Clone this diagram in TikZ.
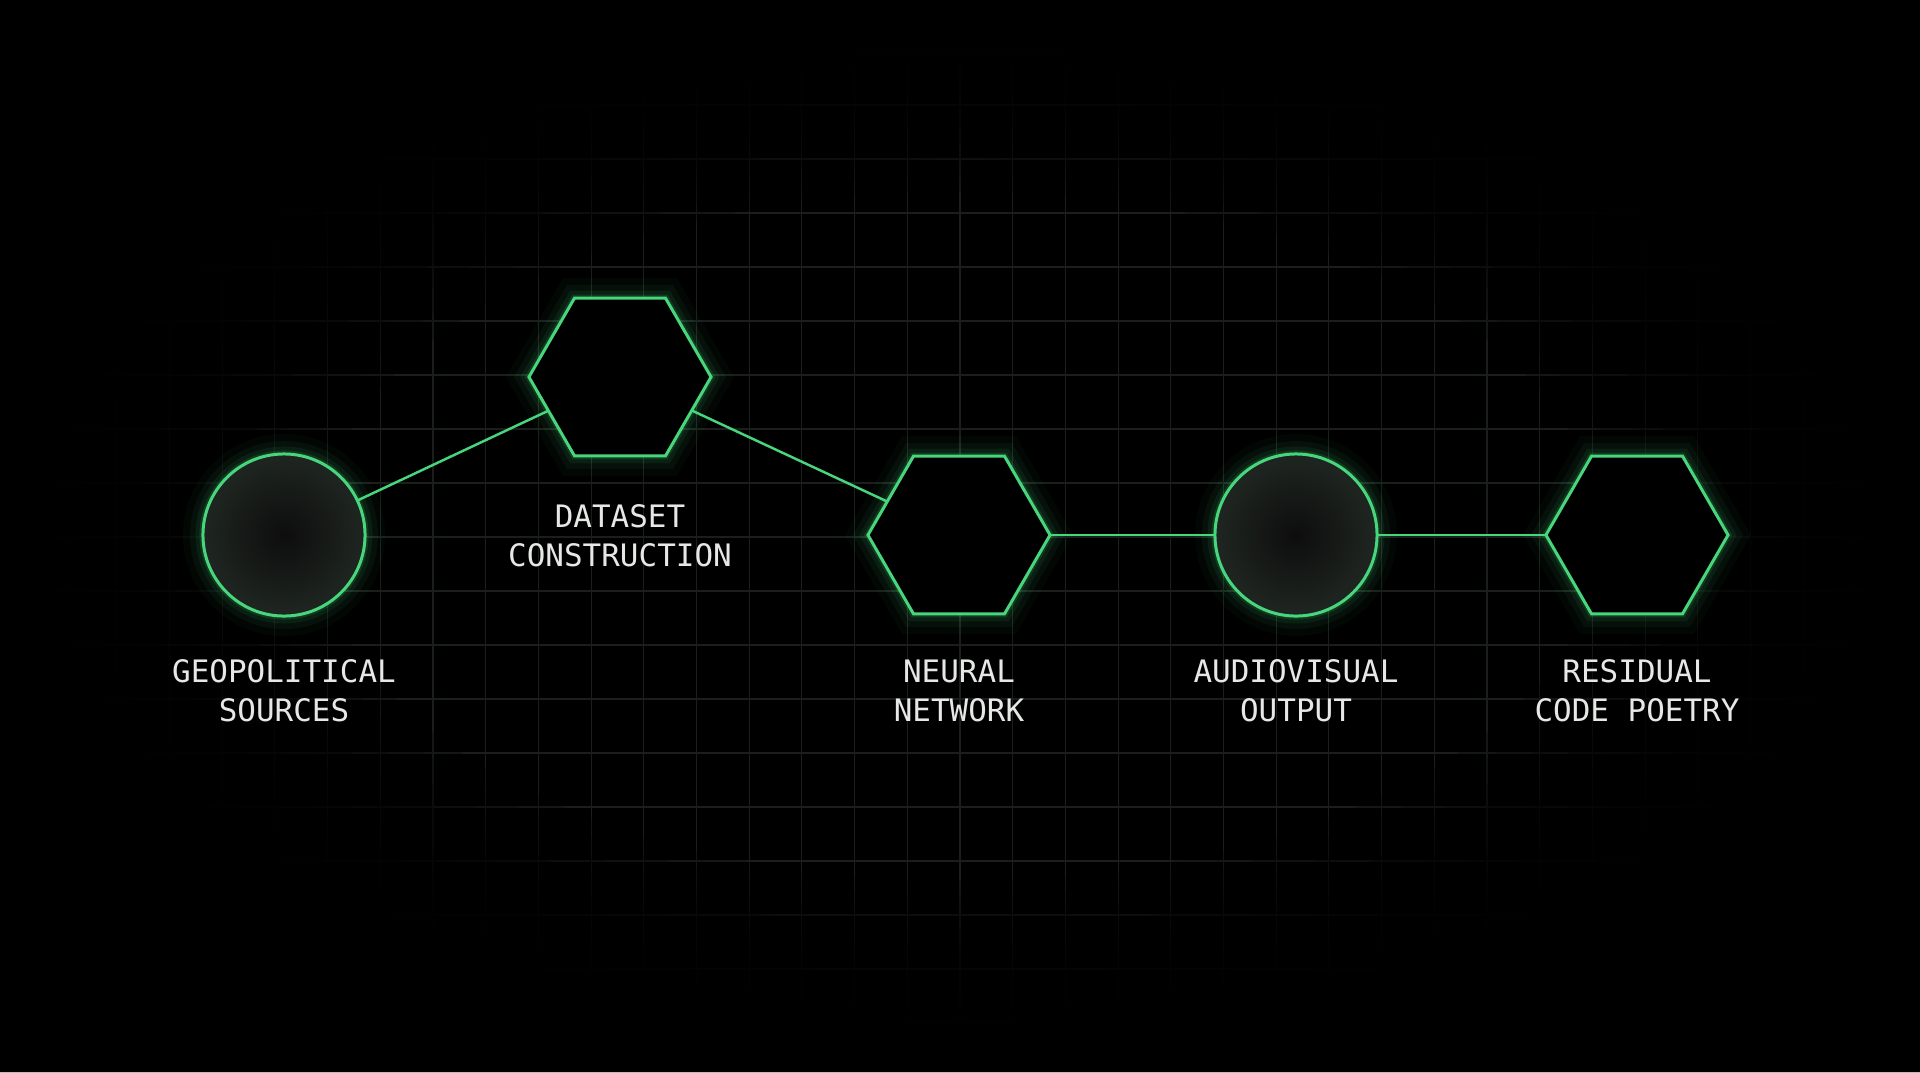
\documentclass[tikz,border=0pt]{standalone}
\usepackage{fontspec}
\usetikzlibrary{positioning,shapes.geometric}
\newfontfamily\capfont{DejaVu Sans Mono}
\definecolor{neon}{HTML}{47D67C}
\definecolor{gridc}{HTML}{1A1F1C}
\definecolor{inkc}{HTML}{E6E8E6}
\definecolor{orbcore}{HTML}{0D0D0D}
\definecolor{orbrim}{HTML}{1F2621}
\tikzset{
  glow/.style={preaction={draw=neon, line width=4mm, opacity=0.035},
               preaction={draw=neon, line width=2.6mm, opacity=0.05},
               preaction={draw=neon, line width=1.5mm, opacity=0.08},
               preaction={draw=neon, line width=0.7mm, opacity=0.14}},
  hexnode/.style={glow, regular polygon, regular polygon sides=6,
                  minimum size=1.82cm, inner sep=0pt, outer sep=0pt,
                  draw=neon, line width=0.85pt, fill=black},
  orbnode/.style={glow, circle, minimum size=1.62cm, inner sep=0pt, outer sep=0pt,
                  draw=neon, line width=0.85pt, inner color=orbcore, outer color=orbrim},
  wire/.style={draw=neon, line width=0.7pt},
  caption/.style={text=inkc, align=center, inner sep=0pt, font=\capfont\fontsize{8.8}{11.1}\selectfont},
  gridline/.style={draw=gridc, line width=0.3pt},
  shade ring/.style={fill=black, opacity=0.22, even odd rule}
}
\begin{document}
\begin{tikzpicture}[x=0.01cm, y=-0.01cm]
\fill[black] (0,0) rectangle (1920,1072);
\useasboundingbox (0,0) rectangle (1920,1072);
\foreach \gx in {-18,...,18}
  \draw[gridline] ({960+52.7*\gx},0) -- ({960+52.7*\gx},1072);
\foreach \gy in {-10,...,10}
  \draw[gridline] (0,{537+54*\gy}) -- (1920,{537+54*\gy});
% dark edges
\foreach \k in {0,...,10}
  \fill[shade ring] (0,0) rectangle (1920,1072)
    (960,536) ellipse [x radius={640+30*\k}, y radius={345+16*\k}];

\node[orbnode] (geo) at (284,535) {};
\node[hexnode] (data) at (620,377) {};
\node[hexnode] (net) at (959,535) {};
\node[orbnode] (av) at (1296,535) {};
\node[hexnode] (poem) at (1637,535) {};

\draw[wire] (geo) -- (data);
\draw[wire] (data) -- (net);
\draw[wire] (net) -- (av);
\draw[wire] (av) -- (poem);

\node[caption, below=1.24cm of geo.center] (geo-cap) {GEOPOLITICAL\\SOURCES};
\node[caption, below=1.27cm of data.center] (data-cap) {DATASET\\CONSTRUCTION};
\node[caption, below=1.24cm of net.center] (net-cap) {NEURAL\\NETWORK};
\node[caption, below=1.24cm of av.center] (av-cap) {AUDIOVISUAL\\OUTPUT};
\node[caption, below=1.24cm of poem.center] (poem-cap) {RESIDUAL\\CODE POETRY};
\end{tikzpicture}
\end{document}
